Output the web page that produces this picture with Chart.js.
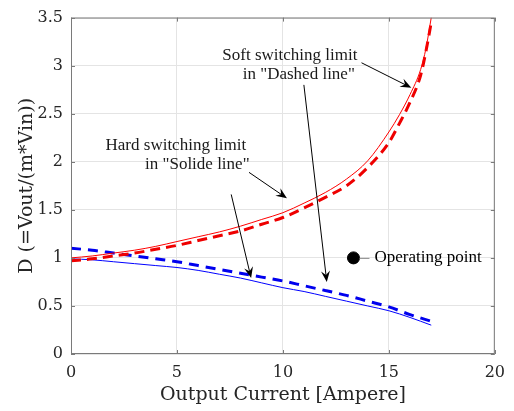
<!DOCTYPE html>
<html>
<head>
<meta charset="utf-8">
<script src="https://cdn.jsdelivr.net/npm/chart.js@4.4.0/dist/chart.umd.min.js"></script>
<style>
  html, body { margin: 0; padding: 0; background: #fff; }
  #wrap { width: 514px; height: 411px; }
</style>
</head>
<body>
<div id="wrap"><canvas id="dChart" width="514" height="411"></canvas></div>
<script>
// Output current samples [A]
const redCurrent = [0, 1, 2, 3, 4, 5, 6, 7, 8, 9, 10, 11, 12, 13, 14, 15, 15.5, 16, 16.5, 16.75, 17];
const blueCurrent = [0, 1, 2, 3, 4, 5, 6, 7, 8, 9, 10, 11, 12, 13, 14, 15, 16, 17];

// Soft switching limit (red)
const softSolid  = [1.00, 1.02, 1.05, 1.08, 1.12, 1.17, 1.22, 1.27, 1.33, 1.40, 1.47, 1.57, 1.68, 1.82, 2.01, 2.31, 2.49, 2.70, 2.96, 3.18, 3.50];
const softDashed = [0.97, 0.99, 1.02, 1.05, 1.09, 1.13, 1.18, 1.23, 1.28, 1.35, 1.42, 1.52, 1.63, 1.75, 1.94, 2.20, 2.40, 2.62, 2.90, 3.15, 3.45];

// Hard switching limit (blue)
const hardSolid  = [0.99, 0.98, 0.96, 0.94, 0.92, 0.90, 0.87, 0.83, 0.79, 0.74, 0.69, 0.65, 0.60, 0.55, 0.50, 0.45, 0.38, 0.30];
const hardDashed = [1.10, 1.08, 1.05, 1.02, 0.99, 0.96, 0.92, 0.88, 0.84, 0.80, 0.76, 0.71, 0.66, 0.61, 0.55, 0.49, 0.41, 0.34];

const operatingPoint = [13.33, 1.0];

const xTicks = [0, 5, 10, 15, 20];
const yTicks = [0, 0.5, 1, 1.5, 2, 2.5, 3, 3.5];

const toPoints = (xs, ys) => xs.map((x, i) => ({ x: x, y: ys[i] }));

function curve(xs, ys, color, width, dash) {
    return {
        data: toPoints(xs, ys),
        showLine: true,
        borderColor: color,
        borderWidth: width,
        borderDash: dash,
        pointRadius: 0,
        cubicInterpolationMode: 'monotone',
        fill: false
    };
}

const annoFont = '17px "Liberation Serif", serif';

function arrow(ctx, x0, y0, x1, y1) {
    const a = Math.atan2(y1 - y0, x1 - x0);
    const len = 11, hw = 4.5;
    ctx.strokeStyle = '#000';
    ctx.lineWidth = 1;
    ctx.beginPath();
    ctx.moveTo(x0, y0);
    ctx.lineTo(x1 - Math.cos(a) * 6, y1 - Math.sin(a) * 6);
    ctx.stroke();
    ctx.fillStyle = '#000';
    ctx.beginPath();
    ctx.moveTo(x1, y1);
    ctx.lineTo(x1 - Math.cos(a) * len - Math.sin(a) * hw, y1 - Math.sin(a) * len + Math.cos(a) * hw);
    ctx.lineTo(x1 - Math.cos(a) * 7, y1 - Math.sin(a) * 7);
    ctx.lineTo(x1 - Math.cos(a) * len + Math.sin(a) * hw, y1 - Math.sin(a) * len - Math.cos(a) * hw);
    ctx.closePath();
    ctx.fill();
}

// Box, inward ticks, arrows and notes
const notesPlugin = {
    id: 'notes',
    afterDatasetsDraw(chart) {
        const ctx = chart.ctx;
        const xs = chart.scales.x, ys = chart.scales.y;
        const px = v => xs.getPixelForValue(v);
        const py = v => ys.getPixelForValue(v);
        const a = chart.chartArea;
        ctx.save();

        // frame
        ctx.strokeStyle = '#7a7a7a';
        ctx.lineWidth = 1;
        ctx.strokeRect(a.left + 0.5, a.top + 0.5, a.right - a.left - 1, a.bottom - a.top - 1);
        ctx.beginPath();
        xTicks.forEach(t => {
            const x = Math.round(px(t)) + 0.5;
            ctx.moveTo(x, a.bottom); ctx.lineTo(x, a.bottom - 4);
            ctx.moveTo(x, a.top); ctx.lineTo(x, a.top + 4);
        });
        yTicks.forEach(t => {
            const y = Math.round(py(t)) + 0.5;
            ctx.moveTo(a.left, y); ctx.lineTo(a.left + 4, y);
            ctx.moveTo(a.right, y); ctx.lineTo(a.right - 4, y);
        });
        ctx.stroke();

        // text notes
        ctx.fillStyle = '#1a1a1a';
        ctx.font = annoFont;
        ctx.textAlign = 'center';
        ctx.textBaseline = 'middle';
        ctx.fillText('Soft switching limit', px(10.33), py(3.11));
        ctx.fillText('in "Dashed line"', px(10.75), py(2.91));
        ctx.fillText('Hard switching limit', px(4.95), py(2.17));
        ctx.fillText('in "Solide line"', px(5.96), py(1.97));

        // arrows
        arrow(ctx, px(13.71), py(3.03), px(16.06), py(2.77));
        arrow(ctx, px(10.99), py(2.80), px(12.07), py(0.75));
        arrow(ctx, px(8.40), py(1.89), px(10.19), py(1.62));
        arrow(ctx, px(7.56), py(1.66), px(8.50), py(0.79));

        // operating point label
        const ox = px(operatingPoint[0]), oy = py(operatingPoint[1]);
        ctx.strokeStyle = '#8a8a8a';
        ctx.beginPath();
        ctx.moveTo(ox + 6, oy + 0.5);
        ctx.lineTo(ox + 16, oy + 0.5);
        ctx.stroke();
        ctx.textAlign = 'left';
        ctx.fillText('Operating point', ox + 21, oy);
        ctx.restore();
    }
};

new Chart(document.getElementById('dChart').getContext('2d'), {
    type: 'scatter',
    data: {
        datasets: [
            curve(redCurrent, softSolid, '#ff0000', 1, []),
            curve(redCurrent, softDashed, '#ee0000', 3, [10, 6]),
            curve(blueCurrent, hardSolid, '#0000ff', 1, []),
            curve(blueCurrent, hardDashed, '#0000ee', 3, [10, 7]),
            {
                data: [{ x: operatingPoint[0], y: operatingPoint[1] }],
                pointRadius: 6,
                pointBackgroundColor: '#000',
                pointBorderColor: '#000',
                showLine: false
            }
        ]
    },
    options: {
        responsive: false,
        animation: false,
        devicePixelRatio: 1,
        layout: { padding: { top: 14, right: 17, left: 0, bottom: 0 } },
        plugins: {
            legend: { display: false },
            tooltip: { enabled: false }
        },
        scales: {
            x: {
                type: 'linear',
                min: 0,
                max: 20,
                afterBuildTicks: s => { s.ticks = xTicks.map(v => ({ value: v })); },
                afterFit: s => { s.height = 57; },
                grid: { color: '#e4e4e4', drawTicks: false },
                border: { display: false },
                ticks: {
                    padding: 9,
                    color: '#262626',
                    callback: v => String(v),
                    font: { family: '"DejaVu Serif", serif', size: 16 }
                },
                title: {
                    display: true,
                    text: 'Output Current [Ampere]',
                    color: '#262626',
                    padding: { top: 0, bottom: 5 },
                    font: { family: '"DejaVu Serif", serif', size: 19 }
                }
            },
            y: {
                type: 'linear',
                min: 0,
                max: 3.5,
                afterBuildTicks: s => { s.ticks = yTicks.map(v => ({ value: v })); },
                afterFit: s => { s.width = 71; },
                grid: { color: '#e4e4e4', drawTicks: false },
                border: { display: false },
                ticks: {
                    padding: 8,
                    color: '#262626',
                    callback: v => String(v),
                    font: { family: '"DejaVu Serif", serif', size: 16 }
                },
                title: {
                    display: true,
                    text: 'D (=Vout/(m*Vin))',
                    color: '#262626',
                    padding: { top: 16, bottom: 0 },
                    font: { family: '"DejaVu Serif", serif', size: 19 }
                }
            }
        }
    },
    plugins: [notesPlugin]
});
</script>
</body>
</html>
